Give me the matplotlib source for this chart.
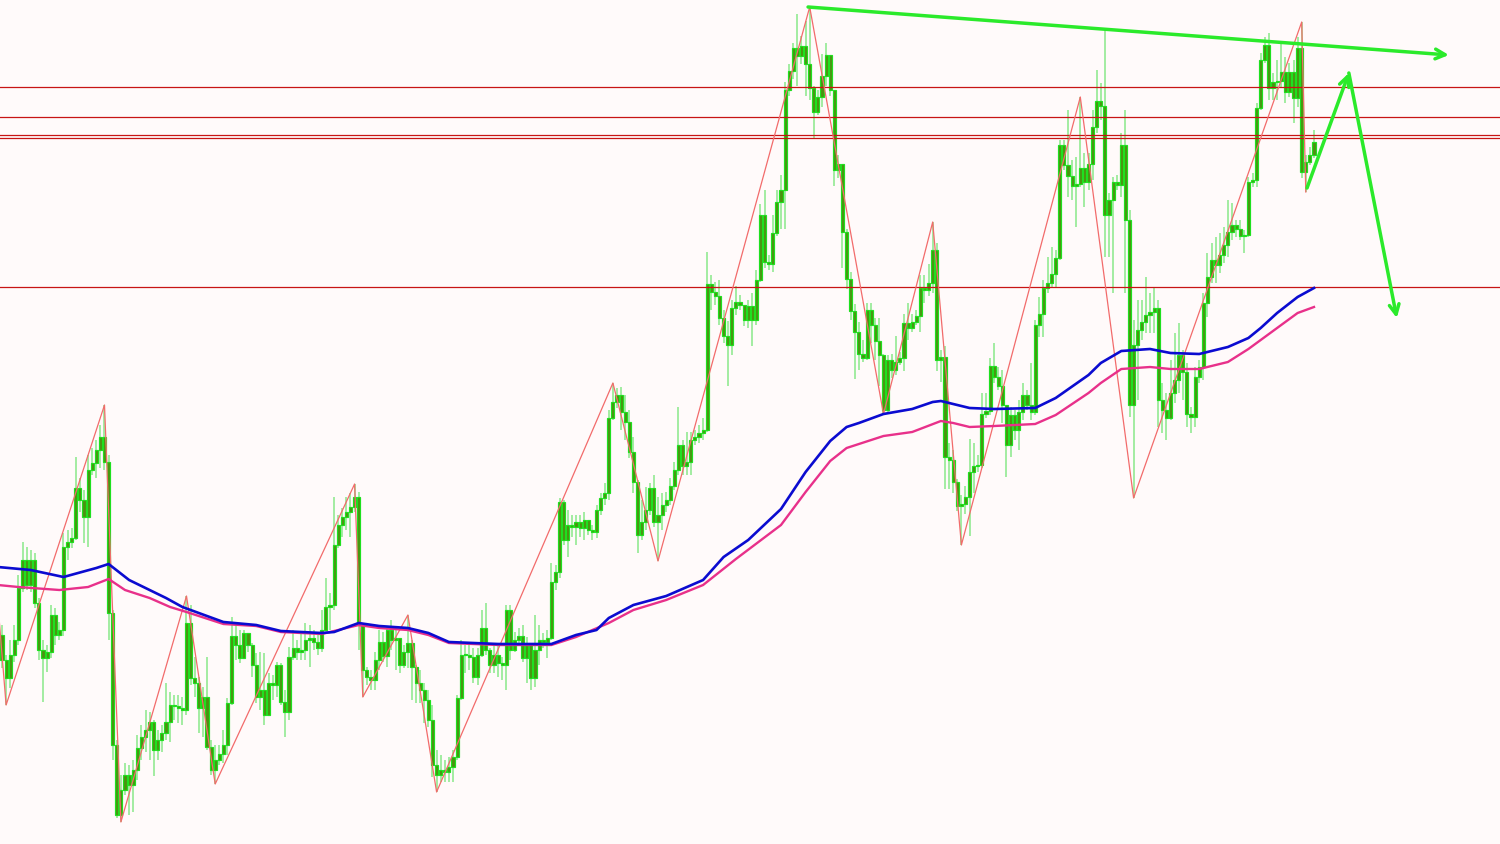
import numpy as np
import matplotlib.pyplot as plt

# candle closes / highs / lows (price points), one per bar
close = [
    340, 322, 345, 360, 412, 440, 415, 440, 397, 350,
    342, 348, 385, 365, 370, 453, 458, 462, 512, 500,
    483, 530, 537, 550, 563, 538, 387, 255, 185, 210,
    225, 215, 230, 252, 263, 270, 278, 250, 260, 267,
    278, 295, 294, 292, 290, 377, 322, 317, 292, 303,
    253, 230, 240, 246, 255, 297, 364, 355, 342, 367,
    355, 335, 303, 310, 285, 317, 315, 335, 298, 288,
    343, 352, 348, 350, 360, 362, 358, 352, 370, 393,
    395, 455, 475, 483, 488, 493, 503, 375, 330, 323,
    320, 340, 358, 344, 370, 360, 362, 335, 348, 357,
    333, 317, 310, 300, 280, 235, 225, 230, 228, 233,
    243, 302, 345, 345, 343, 323, 345, 372, 350, 335,
    345, 337, 335, 390, 350, 360, 364, 342, 355, 322,
    350, 360, 358, 362, 418, 428, 498, 460, 475, 473,
    478, 472, 480, 470, 468, 490, 502, 507, 582, 598,
    605, 588, 578, 548, 518, 465, 478, 490, 512, 478,
    485, 495, 500, 514, 530, 555, 534, 538, 560, 563,
    567, 570, 716, 708, 704, 682, 664, 655, 692, 698,
    695, 680, 694, 680, 720, 785, 738, 736, 767, 798,
    810, 910, 929, 952, 944, 954, 936, 912, 888, 903,
    924, 945, 910, 830, 836, 768, 721, 689, 668, 646,
    642, 690, 675, 659, 645, 590, 640, 630, 638, 642,
    677, 672, 678, 684, 712, 710, 717, 750, 640, 643,
    543, 540, 518, 494, 496, 503, 528, 534, 535, 586,
    589, 634, 623, 614, 595, 555, 585, 570, 588, 605,
    595, 588, 675, 686, 712, 717, 726, 742, 855, 835,
    824, 814, 816, 832, 818, 836, 873, 899, 894, 785,
    800, 818, 815, 855, 780, 595, 655, 670, 678, 685,
    688, 692, 600, 590, 582, 607, 620, 645, 628, 586,
    583, 623, 633, 697, 723, 740, 735, 745, 755, 768,
    775, 771, 764, 765, 818, 820, 892, 940, 955, 912,
    918, 919, 928, 908, 928, 902, 952, 828, 838, 845,
    858]

high = [
    375, 345, 360, 375, 425, 458, 453, 450, 447, 402,
    360, 355, 395, 392, 378, 467, 470, 472, 543, 522,
    510, 545, 552, 560, 575, 595, 545, 390, 260, 225,
    237, 235, 240, 265, 275, 290, 288, 280, 270, 275,
    317, 308, 305, 305, 303, 404, 395, 343, 323, 313,
    343, 260, 255, 255, 270, 302, 383, 375, 370, 370,
    362, 357, 347, 348, 347, 327, 325, 338, 337, 310,
    353, 370, 360, 368, 377, 375, 370, 365, 390, 422,
    407, 503, 485, 492, 503, 507, 516, 508, 370, 333,
    330, 348, 370, 368, 373, 380, 370, 360, 355, 385,
    360, 335, 330, 317, 310, 295, 250, 245, 240, 243,
    250, 305, 360, 355, 357, 352, 352, 390, 397, 352,
    355, 357, 343, 395, 395, 368, 372, 375, 363, 350,
    385, 375, 367, 370, 437, 435, 502, 500, 490, 485,
    485, 485, 488, 480, 475, 495, 507, 517, 590, 617,
    612, 613, 605, 590, 563, 520, 500, 513, 517, 525,
    503, 507, 508, 522, 538, 593, 560, 568, 568, 570,
    575, 582, 748, 725, 718, 720, 690, 679, 700, 714,
    705, 695, 700, 707, 730, 796, 810, 745, 785, 810,
    825, 918, 936, 957, 986, 964, 979, 993, 914, 910,
    946, 957, 920, 907, 845, 821, 771, 728, 696, 678,
    660, 697, 697, 682, 682, 646, 645, 646, 664, 648,
    686, 697, 686, 690, 725, 725, 736, 778, 757, 650,
    654, 557, 550, 521, 505, 514, 561, 557, 545, 607,
    607, 642, 657, 633, 630, 593, 593, 590, 600, 617,
    610, 637, 680, 703, 720, 743, 753, 750, 860, 860,
    890, 840, 843, 903, 847, 847, 890, 930, 917, 970,
    807, 823, 825, 867, 890, 790, 680, 700, 700, 723,
    707, 713, 700, 617, 607, 640, 667, 677, 650, 637,
    593, 633, 640, 707, 747, 757, 763, 767, 773, 800,
    797, 780, 780, 770, 823, 827, 897, 947, 963, 967,
    927, 940, 957, 943, 937, 940, 963, 978, 845, 853,
    870]

low = [
    332, 295, 312, 338, 355, 408, 410, 408, 392, 340,
    298, 328, 342, 355, 360, 364, 440, 452, 460, 488,
    457, 453, 525, 522, 532, 530, 360, 240, 182, 178,
    205, 185, 188, 220, 240, 248, 240, 224, 240, 248,
    260, 258, 280, 277, 275, 285, 315, 303, 267, 263,
    250, 225, 216, 235, 237, 245, 295, 340, 337, 350,
    348, 323, 297, 290, 275, 295, 300, 303, 295, 263,
    280, 340, 340, 340, 340, 333, 350, 345, 348, 370,
    370, 390, 452, 463, 470, 463, 488, 350, 303, 315,
    310, 310, 330, 338, 333, 350, 330, 327, 332, 332,
    300, 297, 297, 277, 273, 223, 208, 218, 218, 218,
    218, 240, 300, 327, 330, 317, 315, 343, 345, 327,
    327, 323, 320, 310, 340, 348, 355, 338, 317, 310,
    313, 335, 352, 342, 360, 410, 422, 455, 443, 463,
    455, 463, 460, 465, 460, 462, 485, 495, 500, 580,
    592, 570, 560, 542, 507, 447, 460, 470, 485, 473,
    439, 470, 488, 495, 510, 525, 525, 525, 525, 555,
    557, 560, 568, 690, 695, 675, 657, 614, 645, 685,
    690, 674, 672, 654, 675, 718, 732, 730, 728, 764,
    771, 771, 904, 921, 914, 936, 904, 900, 861, 885,
    893, 914, 904, 814, 822, 732, 711, 680, 621, 630,
    638, 640, 657, 640, 614, 586, 588, 622, 625, 635,
    629, 660, 668, 675, 668, 697, 704, 707, 629, 618,
    511, 511, 507, 489, 455, 486, 464, 507, 528, 532,
    582, 585, 617, 610, 577, 523, 543, 560, 550, 580,
    590, 580, 585, 663, 663, 707, 713, 713, 740, 830,
    803, 800, 773, 813, 793, 810, 820, 867, 880, 743,
    743, 707, 810, 803, 707, 583, 502, 600, 660, 667,
    667, 667, 573, 567, 560, 580, 597, 607, 600, 573,
    567, 573, 617, 620, 683, 717, 717, 727, 737, 743,
    760, 763, 760, 747, 763, 813, 813, 890, 937, 900,
    900, 900, 913, 897, 903, 877, 893, 822, 808, 835,
    842]

first_open = 365

# zigzag pivots (bar, price)
zz_bar = [-3, 1, 25, 29, 45, 52, 86, 88, 99, 106, 149, 160, 197, 215, 227, 234, 263, 276, 317, 318]
zz_price = [497, 295, 595, 178, 404, 216, 516, 303, 385, 208, 617, 439, 993, 586, 778, 455, 903, 502, 978, 808]

# moving averages
ma_blue_bar = [-1, 7, 15, 23, 26, 31, 36, 40, 44, 48, 54, 62, 68, 78, 81, 87, 92, 99, 104, 109,
               121, 134, 140, 145, 148, 154, 162, 171, 176, 182, 190, 196, 202, 206, 209, 215, 222, 227, 229, 233,
               236, 242, 252, 257, 265, 268, 273, 280, 285, 292, 299, 304, 307, 311, 316, 320]
ma_blue = [433, 430, 423, 432, 436, 420, 410, 402, 393, 387, 378, 375, 369, 367, 368, 377, 374, 372, 367, 358,
           356, 356, 365, 370, 382, 395, 404, 420, 443, 460, 491, 528, 559, 573, 577, 586, 591, 598, 599, 595,
           592, 591, 592, 602, 625, 637, 649, 651, 647, 646, 653, 662, 672, 687, 703, 712]
ma_pink_bar = [-1, 4, 14, 21, 26, 30, 36, 41, 45, 54, 62, 68, 78, 87, 92, 99, 104, 109, 121, 134,
               140, 148, 154, 162, 171, 179, 190, 196, 202, 206, 215, 222, 229, 232, 236, 242, 252, 257, 265, 268,
               273, 280, 285, 292, 299, 304, 308, 316, 320]
ma_pink = [415, 413, 410, 413, 421, 410, 402, 393, 388, 376, 374, 368, 366, 375, 372, 370, 365, 357, 355, 355,
           363, 377, 390, 400, 415, 441, 475, 508, 539, 552, 564, 568, 579, 577, 573, 574, 576, 585, 607, 617,
           631, 633, 631, 631, 638, 651, 663, 687, 693]

# horizontal levels
levels = [913, 883, 865, 862, 713]

# drawn trend line and forecast path
trend_bar = [196.6, 352.9]
trend_price = [993, 945]
fc_bar = [318.3, 328.5, 340.2]
fc_price = [812, 927, 682]

assert len(close) == len(high) == len(low)

n = len(close)
bars = np.arange(n)
c = np.array(close)
o = np.array([first_open] + close[:-1])

bg = '#fffafa'
fig = plt.figure(figsize=(15, 8.44), dpi=100)
fig.patch.set_facecolor(bg)
ax = fig.add_axes([0, 0, 1, 1])
ax.set_facecolor(bg)

ax.vlines(bars, low, high, color='#92ea92', lw=1.2, zorder=2)
body = np.abs(c - o)
ax.bar(bars, np.maximum(body, 1.5), bottom=np.minimum(c, o), width=0.76,
       color='#4a9210', edgecolor='#1fe01f', lw=0.85, zorder=3)

for lv in levels:
    ax.axhline(lv, color='#c81414', lw=0.9, zorder=4)

ax.plot(zz_bar, zz_price, color='#f26b6b', lw=0.9, zorder=5)
ax.plot(ma_pink_bar, ma_pink, color='#e8308a', lw=1.7, zorder=6)
ax.plot(ma_blue_bar, ma_blue, color='#0b0bd0', lw=1.9, zorder=6)

green = '#2bea2b'
head = '->,head_length=0.7,head_width=0.35'
ax.annotate('', xy=(trend_bar[1], trend_price[1]), xytext=(trend_bar[0], trend_price[0]),
            arrowprops=dict(arrowstyle=head, color=green, lw=2.5, shrinkA=0, shrinkB=0), zorder=7)
ax.annotate('', xy=(fc_bar[1], fc_price[1]), xytext=(fc_bar[0], fc_price[0]),
            arrowprops=dict(arrowstyle=head, color=green, lw=2.5, shrinkA=0, shrinkB=0), zorder=7)
ax.annotate('', xy=(fc_bar[2], fc_price[2]), xytext=(fc_bar[1], fc_price[1]),
            arrowprops=dict(arrowstyle=head, color=green, lw=2.5, shrinkA=0, shrinkB=0), zorder=7)

ax.set_xlim(-2 / 4.1, 1498 / 4.1)
ax.set_ylim(156, 1000)
ax.axis('off')

fig.savefig('out.png', dpi=100, facecolor=bg)
